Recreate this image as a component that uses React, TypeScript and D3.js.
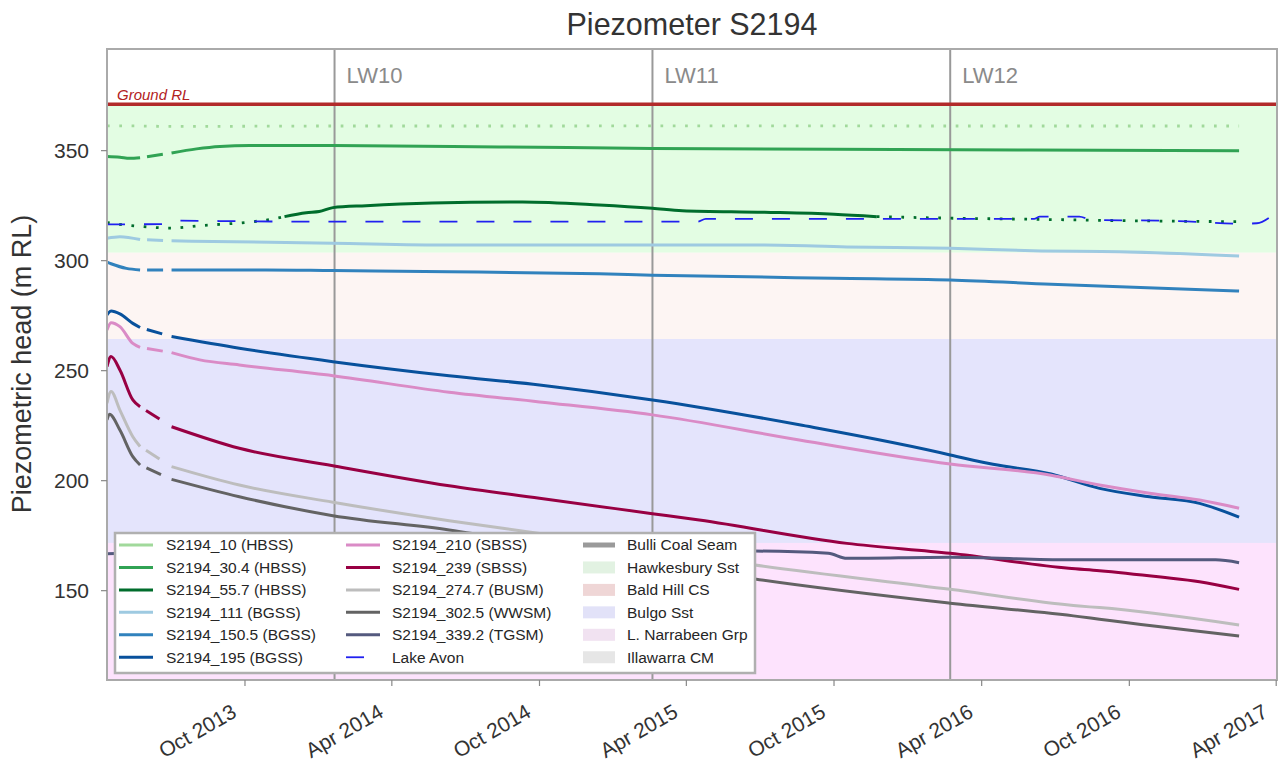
import React from 'react';
import * as d3 from 'd3';

type P = [string, number];

const TITLE = 'Piezometer S2194';
const Y_LABEL = 'Piezometric head (m RL)';
const X_TICKS = ['2013-10-01', '2014-04-01', '2014-10-01', '2015-04-01', '2015-10-01', '2016-04-01', '2016-10-01', '2017-04-01'];
const Y_TICKS = [150, 200, 250, 300, 350];
const X_DOMAIN = ['2013-04-13', '2017-04-02'];
const Y_DOMAIN = [109.4, 396.2];

const GROUND_RL = 371.1;
const GAP_START = '2013-05-24';
const GAP_END = '2013-07-02';

const LONGWALLS: [string, string][] = [['LW10', '2014-01-20'], ['LW11', '2015-02-18'], ['LW12', '2016-02-22']];

const BANDS = [
  { name: 'Hawkesbury Sst', top: 371.1, bottom: 303.6, fill: '#e3fde3' },
  { name: 'Bald Hill CS', top: 303.6, bottom: 264.4, fill: '#fdf5f3' },
  { name: 'Bulgo Sst', top: 264.4, bottom: 171.7, fill: '#e4e4fc' },
  { name: 'L. Narrabeen Grp', top: 171.7, bottom: 100, fill: '#fde3fd' },
];

const s10: P[] = [['2013-04-13', 361.3], ['2013-05-24', 361.2], ['2013-07-02', 361.0], ['2014-01-20', 361.2], ['2014-10-01', 361.2], ['2015-06-01', 361.3], ['2016-02-22', 361.2], ['2017-02-14', 361.2]];
const s30_4: P[] = [['2013-04-13', 347.3], ['2013-04-29', 347.0], ['2013-05-11', 346.5], ['2013-05-24', 346.8], ['2013-07-02', 348.9], ['2013-08-02', 350.8], ['2013-08-31', 351.9], ['2013-10-07', 352.3], ['2014-01-18', 352.3], ['2014-08-12', 351.7], ['2015-02-18', 351.0], ['2015-10-01', 350.6], ['2016-06-01', 350.3], ['2017-02-14', 349.9]];
const s55_7: P[] = [['2013-04-13', 317.3], ['2013-05-01', 316.4], ['2013-05-24', 315.6], ['2013-07-02', 314.8], ['2013-08-06', 315.9], ['2013-10-05', 317.5], ['2013-11-06', 319.0], ['2013-11-19', 320.0], ['2013-12-16', 321.8], ['2014-01-01', 322.3], ['2014-01-18', 324.1], ['2014-02-28', 325.0], ['2014-05-21', 326.2], ['2014-09-10', 326.7], ['2014-12-14', 325.3], ['2015-02-18', 323.8], ['2015-03-27', 322.7], ['2015-07-07', 322.0], ['2015-10-01', 321.1], ['2015-11-23', 320.0], ['2016-02-22', 319.3], ['2016-06-04', 318.8], ['2016-09-19', 318.2], ['2017-02-14', 317.7]];
const s111: P[] = [['2013-04-13', 310.2], ['2013-04-29', 310.9], ['2013-05-24', 309.6], ['2013-07-02', 309.0], ['2014-01-18', 307.9], ['2014-06-11', 307.1], ['2014-12-14', 307.1], ['2015-07-07', 307.1], ['2015-10-17', 306.2], ['2016-02-22', 305.6], ['2016-06-04', 304.5], ['2016-09-19', 304.1], ['2017-02-14', 302.1]];
const s150_5: P[] = [['2013-04-13', 299.3], ['2013-04-18', 298.6], ['2013-05-07', 296.5], ['2013-05-24', 295.8], ['2013-07-02', 295.8], ['2013-10-27', 295.8], ['2014-01-18', 295.5], ['2014-06-11', 295.0], ['2014-12-14', 294.0], ['2015-02-18', 293.4], ['2015-10-01', 292.0], ['2016-02-22', 291.2], ['2016-06-26', 289.3], ['2017-02-14', 286.2]];
const s195: P[] = [['2013-04-13', 275.3], ['2013-04-18', 277.1], ['2013-04-29', 275.8], ['2013-05-15', 271.5], ['2013-05-24', 269.6], ['2013-07-02', 265.5], ['2013-09-24', 260.2], ['2014-01-18', 254.1], ['2014-06-11', 247.7], ['2014-10-01', 243.5], ['2015-02-18', 236.7], ['2015-08-19', 225.4], ['2016-02-22', 211.7], ['2016-03-01', 211.0], ['2016-04-15', 207.5], ['2016-06-26', 203.0], ['2016-08-25', 196.5], ['2016-10-26', 192.7], ['2016-12-27', 189.7], ['2017-02-14', 183.4]];
const s210: P[] = [['2013-04-13', 268.5], ['2013-04-18', 271.8], ['2013-04-29', 270.0], ['2013-05-15', 262.4], ['2013-05-24', 260.6], ['2013-07-02', 258.2], ['2013-08-06', 254.9], ['2013-09-24', 252.6], ['2014-01-18', 247.7], ['2014-06-11', 240.2], ['2014-10-01', 235.8], ['2015-02-18', 229.9], ['2015-08-19', 218.5], ['2016-02-22', 207.6], ['2016-06-26', 202.5], ['2016-08-25', 198.0], ['2016-10-26', 194.3], ['2016-12-27', 191.2], ['2017-02-14', 187.5]];
const s239: P[] = [['2013-04-13', 251.8], ['2013-04-18', 256.4], ['2013-04-29', 250.3], ['2013-05-15', 236.7], ['2013-05-24', 233.6], ['2013-07-02', 224.5], ['2013-09-24', 214.7], ['2014-01-18', 206.8], ['2014-06-11', 197.7], ['2014-10-01', 192.0], ['2015-02-18', 185.0], ['2015-04-17', 182.1], ['2015-10-17', 171.5], ['2016-02-22', 167.0], ['2016-07-18', 160.2], ['2016-08-25', 159.1], ['2016-11-09', 156.2], ['2016-12-27', 154.1], ['2017-02-14', 150.6]];
const s274_7: P[] = [['2013-04-13', 235.2], ['2013-04-18', 240.5], ['2013-04-29', 232.1], ['2013-05-15', 220.0], ['2013-05-24', 215.5], ['2013-07-02', 206.4], ['2013-09-24', 198.0], ['2014-01-18', 190.2], ['2014-06-11', 181.8], ['2014-10-01', 176.0], ['2015-02-18', 168.6], ['2015-06-25', 161.7], ['2016-02-22', 150.6], ['2016-07-31', 143.0], ['2016-08-25', 142.3], ['2017-02-14', 134.4]];
const s302_5: P[] = [['2013-04-13', 227.6], ['2013-04-16', 230.2], ['2013-04-29', 223.0], ['2013-05-15', 210.9], ['2013-05-24', 207.1], ['2013-07-02', 200.6], ['2013-09-24', 192.7], ['2014-01-18', 184.1], ['2014-06-11', 177.6], ['2014-10-01', 171.0], ['2015-02-18', 162.8], ['2015-06-25', 155.3], ['2016-02-22', 144.3], ['2016-07-31', 138.2], ['2016-08-25', 137.0], ['2017-02-14', 129.4]];
const s339_2: P[] = [['2013-04-13', 166.8], ['2013-05-24', 167.2], ['2013-07-02', 167.5], ['2014-06-01', 168.2], ['2015-06-25', 168.0], ['2015-09-24', 167.0], ['2015-10-17', 164.7], ['2016-02-22', 165.2], ['2016-07-18', 164.0], ['2017-01-16', 164.0], ['2017-02-14', 162.7]];
const lakeAvon: P[] = [['2013-04-13', 316.5], ['2013-06-20', 316.6], ['2013-07-05', 318.2], ['2013-09-01', 318.0], ['2014-01-01', 317.7], ['2015-04-15', 317.7], ['2015-04-25', 319.0], ['2016-06-05', 319.0], ['2016-06-12', 320.0], ['2016-07-31', 320.0], ['2016-08-15', 318.6], ['2016-12-01', 318.0], ['2017-02-17', 316.8], ['2017-03-08', 317.0], ['2017-03-27', 320.5]];

type Series = { name: string; color: string; data: P[]; dotted?: [string, string][]; width?: number };

const SERIES: Series[] = [
  { name: 'S2194_10 (HBSS)', color: '#a1d99b', data: s10, dotted: [['2013-04-13', '2017-02-14']] },
  { name: 'S2194_30.4 (HBSS)', color: '#31a354', data: s30_4 },
  { name: 'S2194_55.7 (HBSS)', color: '#006d2c', data: s55_7, dotted: [['2013-04-13', '2013-11-19'], ['2015-11-23', '2017-02-14']] },
  { name: 'S2194_111 (BGSS)', color: '#9ecae1', data: s111 },
  { name: 'S2194_150.5 (BGSS)', color: '#3182bd', data: s150_5 },
  { name: 'S2194_195 (BGSS)', color: '#08519c', data: s195 },
  { name: 'S2194_210 (SBSS)', color: '#da8bc6', data: s210 },
  { name: 'S2194_239 (SBSS)', color: '#980043', data: s239 },
  { name: 'S2194_274.7 (BUSM)', color: '#bdbdbd', data: s274_7 },
  { name: 'S2194_302.5 (WWSM)', color: '#636363', data: s302_5 },
  { name: 'S2194_339.2 (TGSM)', color: '#545a7e', data: s339_2 },
];
const LAKE = { name: 'Lake Avon', color: '#2020f0', data: lakeAvon };

const PATCHES = [
  { name: 'Bulli Coal Seam', color: '#9a9a9a', line: true },
  { name: 'Hawkesbury Sst', color: '#e2f2e2' },
  { name: 'Bald Hill CS', color: '#efd6d6' },
  { name: 'Bulgo Sst', color: '#e2e2f8' },
  { name: 'L. Narrabeen Grp', color: '#f1e2f1' },
  { name: 'Illawarra CM', color: '#e6e6e6' },
];

const FONT = "'Liberation Sans', Arial, Helvetica, sans-serif";
const parse = d3.utcParse('%Y-%m-%d');

const L = 107, R = 1277, T = 49, B = 680;

export default function App() {
  const x = d3.scaleUtc().domain(X_DOMAIN.map((s) => parse(s) as Date)).range([L, R]);
  const y = d3.scaleLinear().domain(Y_DOMAIN).range([B, T]);
  const fmt = d3.utcFormat('%b %Y');
  const line = d3
    .line<{ d: Date; v: number }>()
    .x((p) => x(p.d))
    .y((p) => y(p.v))
    .curve(d3.curveMonotoneX);

  const gs = +(parse(GAP_START) as Date);
  const ge = +(parse(GAP_END) as Date);

  const segments = (s: Series) => {
    const pts = s.data.map(([d, v]) => ({ d: parse(d) as Date, v }));
    const ranges = (s.dotted || []).map(([a, b]) => [+(parse(a) as Date), +(parse(b) as Date)]);
    const segs: { style: string; pts: { d: Date; v: number }[] }[] = [];
    for (let i = 0; i < pts.length - 1; i++) {
      const a = pts[i], b = pts[i + 1];
      const dotted = ranges.some(([r0, r1]) => +a.d >= r0 && +b.d <= r1);
      const style = dotted ? 'dot' : +a.d >= gs && +b.d <= ge ? 'gap' : 'solid';
      const last = segs[segs.length - 1];
      if (last && last.style === style) last.pts.push(b);
      else segs.push({ style, pts: [a, b] });
    }
    return segs;
  };

  const dashFor = (style: string) => (style === 'dot' ? '2.7,9.6' : style === 'gap' ? '0,7,16,200' : undefined);

  const legRow = (i: number) => 545 + i * 22.45;
  const legCols = [
    { sx: 119, tx: 166 },
    { sx: 346, tx: 392 },
    { sx: 583, tx: 627 },
  ];
  const col1 = SERIES.slice(0, 6);
  const col2 = [...SERIES.slice(6), LAKE];

  return (
    <svg width={1278} height={762} style={{ position: 'absolute', left: 0, top: 0, background: '#fff' }} fontFamily={FONT}>
      <rect x={0} y={0} width={1278} height={762} fill="#fff" />
      <text x={(L + R) / 2} y={35} textAnchor="middle" fontSize={30.5} fill="#333">{TITLE}</text>
      <defs>
        <clipPath id="plot"><rect x={L} y={T} width={R - L} height={B - T} /></clipPath>
      </defs>
      <g clipPath="url(#plot)">
        {BANDS.map((b) => (
          <rect key={b.name} x={L} width={R - L} y={y(b.top)} height={y(b.bottom) - y(b.top)} fill={b.fill} />
        ))}
        {LONGWALLS.map(([n, d]) => (
          <g key={n}>
            <line x1={x(parse(d) as Date)} x2={x(parse(d) as Date)} y1={T} y2={B} stroke="#999" strokeWidth={2} />
            <text x={x(parse(d) as Date) + 12} y={83} fontSize={22} fill="#8a8a8a">{n}</text>
          </g>
        ))}
        <line x1={L} x2={R} y1={y(GROUND_RL)} y2={y(GROUND_RL)} stroke="#b22a2a" strokeWidth={3.5} />
        <text x={117} y={100} fontSize={15} fontStyle="italic" fill="#b22222">Ground RL</text>
        {SERIES.map((s) =>
          segments(s).map((seg, i) => (
            <path key={s.name + i} d={line(seg.pts) || ''} fill="none" stroke={s.color} strokeWidth={seg.style === 'dot' ? 2.8 : 3}
              strokeDasharray={dashFor(seg.style)} strokeLinejoin="round" />
          ))
        )}
        <path d={line(LAKE.data.map(([d, v]) => ({ d: parse(d) as Date, v }))) || ''} fill="none" stroke={LAKE.color} strokeWidth={1.8} strokeDasharray="18,19" />
      </g>
      <rect x={L} y={T} width={R - L} height={B - T} fill="none" stroke="#aaa" strokeWidth={2} />
      {Y_TICKS.map((t) => (
        <g key={t}>
          <line x1={L - 6} x2={L} y1={y(t)} y2={y(t)} stroke="#888" strokeWidth={1.2} />
          <text x={89} y={y(t)} dy="0.35em" textAnchor="end" fontSize={21} fill="#333">{t}</text>
        </g>
      ))}
      {X_TICKS.map((t) => {
        const xx = x(parse(t) as Date);
        return (
          <g key={t}>
            <line x1={xx} x2={xx} y1={B} y2={B + 6} stroke="#888" strokeWidth={1.2} />
            <text transform={`translate(${xx - 7},${716}) rotate(-30)`} textAnchor="end" fontSize={21} fill="#333">{fmt(parse(t) as Date)}</text>
          </g>
        );
      })}
      <text transform={`translate(31,364) rotate(-90)`} textAnchor="middle" fontSize={27} fill="#333">{Y_LABEL}</text>
      <g>
        <rect x={115} y={533} width={640} height={140} fill="#fff" stroke="#b0b0b0" strokeWidth={2.5} />
        {col1.map((s, i) => (
          <g key={s.name}>
            <line x1={legCols[0].sx} x2={legCols[0].sx + 34} y1={legRow(i)} y2={legRow(i)} stroke={s.color} strokeWidth={3} />
            <text x={legCols[0].tx} y={legRow(i)} dy="0.35em" fontSize={15.5} fill="#262626">{s.name}</text>
          </g>
        ))}
        {col2.map((s, i) => (
          <g key={s.name}>
            <line x1={legCols[1].sx} x2={legCols[1].sx + 34} y1={legRow(i)} y2={legRow(i)} stroke={s.color}
              strokeWidth={s === LAKE ? 1.8 : 3} strokeDasharray={s === LAKE ? '18,19' : undefined} />
            <text x={legCols[1].tx} y={legRow(i)} dy="0.35em" fontSize={15.5} fill="#262626">{s.name}</text>
          </g>
        ))}
        {PATCHES.map((p, i) => (
          <g key={p.name}>
            {p.line ? (
              <line x1={legCols[2].sx} x2={legCols[2].sx + 32} y1={legRow(i)} y2={legRow(i)} stroke={p.color} strokeWidth={5} />
            ) : (
              <rect x={legCols[2].sx} y={legRow(i) - 6} width={32} height={12} fill={p.color} />
            )}
            <text x={legCols[2].tx} y={legRow(i)} dy="0.35em" fontSize={15.5} fill="#262626">{p.name}</text>
          </g>
        ))}
      </g>
    </svg>
  );
}
